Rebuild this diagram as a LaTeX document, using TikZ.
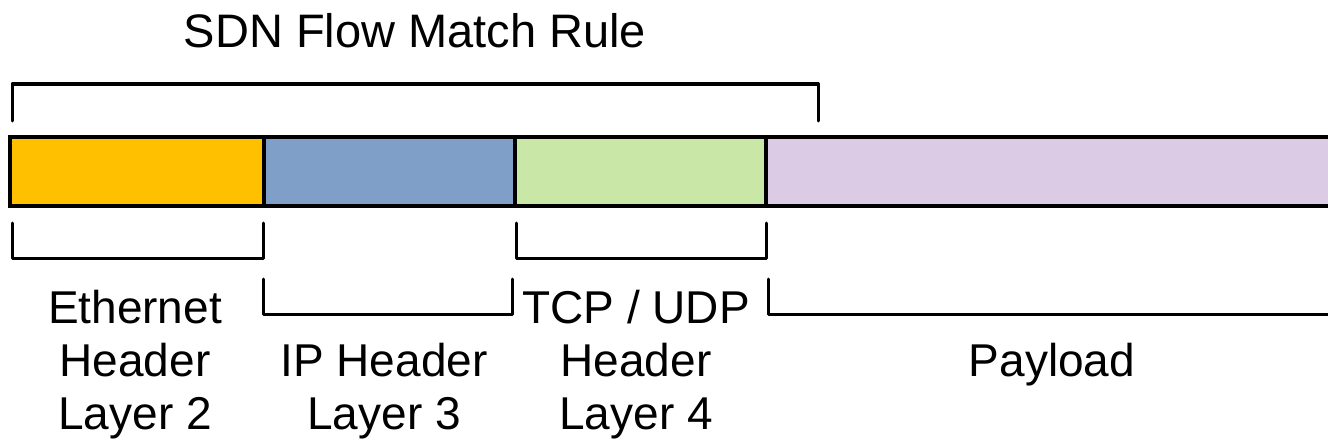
\documentclass[tikz,border=0pt]{standalone}
\usepackage{fontspec}
\setmainfont{Liberation Sans}
\definecolor{ethfill}{HTML}{FFC000}
\definecolor{ipfill}{HTML}{809FC8}
\definecolor{tcpfill}{HTML}{C9E7A7}
\definecolor{payfill}{HTML}{DBCBE5}
\begin{document}
\begin{tikzpicture}[x=1pt,y=-1pt,
  seg/.style={draw=black,line width=4pt},
  brace/.style={draw=black,line width=3pt,line cap=round,line join=round},
  lbl/.style={align=center,inner sep=0pt,anchor=base,
    font=\fontsize{46}{53}\selectfont}]
\useasboundingbox (0,0) rectangle (1328,444);
\clip (0,0) rectangle (1328,444);
% packet fields
\coordinate (b0) at (10,137);
\coordinate (b1) at (264,206);
\coordinate (c0) at (264,137);
\coordinate (c1) at (515,206);
\coordinate (d0) at (515,137);
\coordinate (d1) at (766,206);
\coordinate (e0) at (766,137);
\coordinate (e1) at (1345,206);
\fill[ethfill] (b0) rectangle (b1);
\fill[ipfill] (c0) rectangle (c1);
\fill[tcpfill] (d0) rectangle (d1);
\fill[payfill] (e0) rectangle (e1);
\draw[seg] (b0) rectangle (e1);
\draw[seg] (c0) -- (c0 |- b1);
\draw[seg] (d0) -- (d0 |- b1);
\draw[seg] (e0) -- (e0 |- b1);
% match-rule bracket above the headers
\draw[brace] (12,121) -- (12,84) -- (818,84) -- (818,121);
% header brackets, first row
\draw[brace] (12,223) -- (12,258) -- (263,258) -- (263,223);
\draw[brace] (516,223) -- (516,258) -- (766,258) -- (766,223);
% second row
\draw[brace] (263,279) -- (263,314) -- (512,314) -- (512,279);
\draw[brace] (768,279) -- (768,314) -- (1345,314);
% labels (base anchor sits on the last line)
\node[lbl,font=\fontsize{47}{53}\selectfont] (title) at (415,48) {SDN Flow Match Rule};
\node[lbl] (eth) at (135,429) {Ethernet\\Header\\Layer 2};
\node[lbl] (ip) at (384,429) {IP Header\\Layer 3};
\node[lbl] (tcp) at (636,429) {TCP / UDP\\Header\\Layer 4};
\node[lbl] (pay) at (1052,376) {Payload};
\end{tikzpicture}
\end{document}
